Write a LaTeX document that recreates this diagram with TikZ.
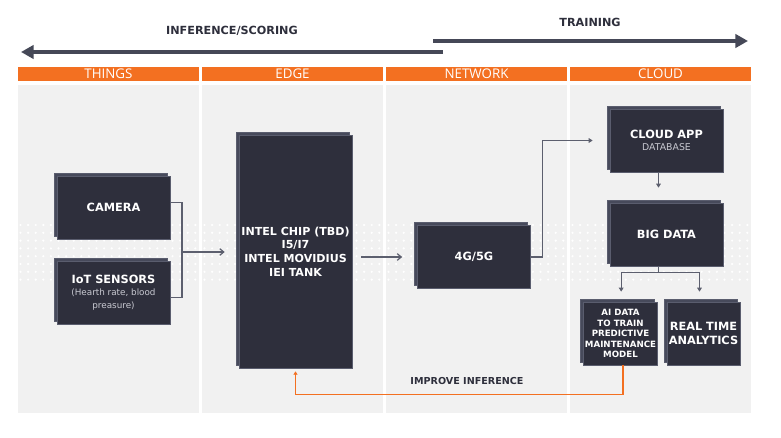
\documentclass[tikz,border=0pt]{standalone}
\usepackage{fontspec}
\setmainfont{DejaVu Sans}
\newfontfamily\headfont{Open Sans}
\usetikzlibrary{positioning}
\usetikzlibrary{arrows.meta}
\usetikzlibrary{shadows}
\definecolor{orng}{HTML}{F37021}
\definecolor{panel}{HTML}{F1F1F1}
\definecolor{boxfill}{HTML}{2E2F3C}
\definecolor{boxback}{HTML}{474A5B}
\definecolor{boxedge}{HTML}{5A5D6E}
\definecolor{conn}{HTML}{5C5F6E}
\definecolor{bigline}{HTML}{454857}
\definecolor{subtext}{HTML}{C9CAD2}
\newcommand{\subtxt}{\mdseries\fontsize{6.6}{8}\selectfont\color{subtext}}
\begin{document}
\begin{tikzpicture}[x=0.75pt, y=-0.75pt,
  head/.style={fill=orng, text=white, font=\headfont\fontsize{10}{10}\selectfont,
    minimum width=135.75pt, minimum height=10.5pt, inner sep=0pt},
  title/.style={text=boxfill, font=\bfseries\fontsize{8.4}{10}\selectfont},
  box/.style={fill=boxfill, draw=boxedge, line width=0.5pt, text=white,
    font=\bfseries\fontsize{8.5}{10}\selectfont, align=center,
    minimum width=84.75pt, minimum height=47.25pt, inner sep=1pt,
    copy shadow={shadow xshift=-2.25pt, shadow yshift=2.25pt, fill=boxback, draw=boxedge}},
  smallbox/.style={box, minimum width=54.75pt},
  bigarrow/.style={draw=bigline, line width=3pt, -{Triangle[length=9.5pt, width=10pt]}},
  link/.style={draw=conn, line width=0.9pt},
  openarrow/.style={link, -{Straight Barb[length=3pt, width=5pt]}},
  fillarrow/.style={link, -{Triangle[length=3pt, width=3.5pt]}},
  feedback/.style={draw=orng, line width=1.2pt, -{Triangle[length=2.5pt, width=3pt]}}]

\fill[white] (0,0) rectangle (781,438);
\useasboundingbox (0,0) rectangle (781,438);

% column panels with the dotted band
\foreach \px in {18,202,386,570} {
  \fill[panel] (\px,85) rectangle ++(181,328);
  \foreach \i in {0,...,23}
    \foreach \j in {0,...,7}
      \fill[white] (\px+2.5+\i*7.6, 225+\j*7.8) circle (1.2);
}

\node[head] (things) at (108.5,74) {THINGS};
\node[head] (edgehead) at (292.5,74) {EDGE};
\node[head] (network) at (476.5,74) {NETWORK};
\node[head] (cloud) at (660.5,74) {CLOUD};

% direction arrows
\node[title] (inf) at (232,31) {INFERENCE/SCORING};
\node[title] (train) at (590,22) {TRAINING};
\coordinate (infstart) at (443,52);
\coordinate (infend) at (21,52);
\coordinate (trainstart) at (433,41);
\coordinate (trainend) at (748,41);
\draw[bigarrow] (infstart) -- (infend);
\draw[bigarrow] (trainstart) -- (trainend);

% boxes
\node[box] (camera) at (113.5,207.5) {CAMERA};
\node[box] (iot) at (113.5,292.5) {IoT SENSORS\\[-1pt]
  \subtxt (Hearth rate, blood\\ \subtxt preasure)};
\node[box, minimum height=174.75pt, font=\bfseries\fontsize{8.3}{10.2}\selectfont] (edge) at (295.5,251.5)
  {INTEL CHIP (TBD)\\ I5/I7\\ INTEL MOVIDIUS\\ IEI TANK};
\node[box] (net) at (474,257) {4G/5G};
\node[box] (app) at (666.5,140.5) {\\[-4pt]CLOUD APP\\[-1pt]\subtxt\fontsize{7}{8}\selectfont DATABASE};
\node[box] (bigdata) at (666.5,234.5) {BIG DATA};
\node[smallbox, font=\bfseries\fontsize{6.5}{7.9}\selectfont] (ai) at (620.5,333.5)
  {AI DATA\\ TO TRAIN\\ PREDICTIVE\\ MAINTENANCE\\ MODEL};
\node[smallbox] (realtime) at (703.5,333.5) {REAL TIME\\ ANALYTICS};

% connectors
\coordinate (joint) at (182,252);
\draw[link] ([yshift=3.75pt]camera.east) -| (joint);
\draw[link] ([yshift=-3.75pt]iot.east) -| (joint);
\draw[openarrow, shorten >=10.5pt] (joint) -- (edge.west |- joint);
\draw[openarrow, shorten <=6.75pt, shorten >=11.25pt] (edge.east |- net.west) -- (net.west);
\draw[fillarrow, shorten >=12.75pt] (net.east) -- ++(12,0) |- (app.west);
\draw[fillarrow, shorten >=11.25pt] ([xshift=-6pt]app.south) -- ([xshift=-6pt]bigdata.north);
\draw[link] ([xshift=-6pt]bigdata.south) -- ++(0,6) coordinate (split);
\draw[fillarrow, shorten >=7.5pt] (split) -| ([xshift=0.5pt]ai.north);
\draw[fillarrow, shorten >=7.5pt] (split) -| ([xshift=-3pt]realtime.north);

% feedback to the edge
\draw[feedback, shorten >=2.25pt] ([xshift=2pt]ai.south) -- ++(0,29) -| (edge.south);
\node[title, font=\bfseries\fontsize{7.2}{9}\selectfont] (improve) at (467,381) {IMPROVE INFERENCE};

\end{tikzpicture}
\end{document}
